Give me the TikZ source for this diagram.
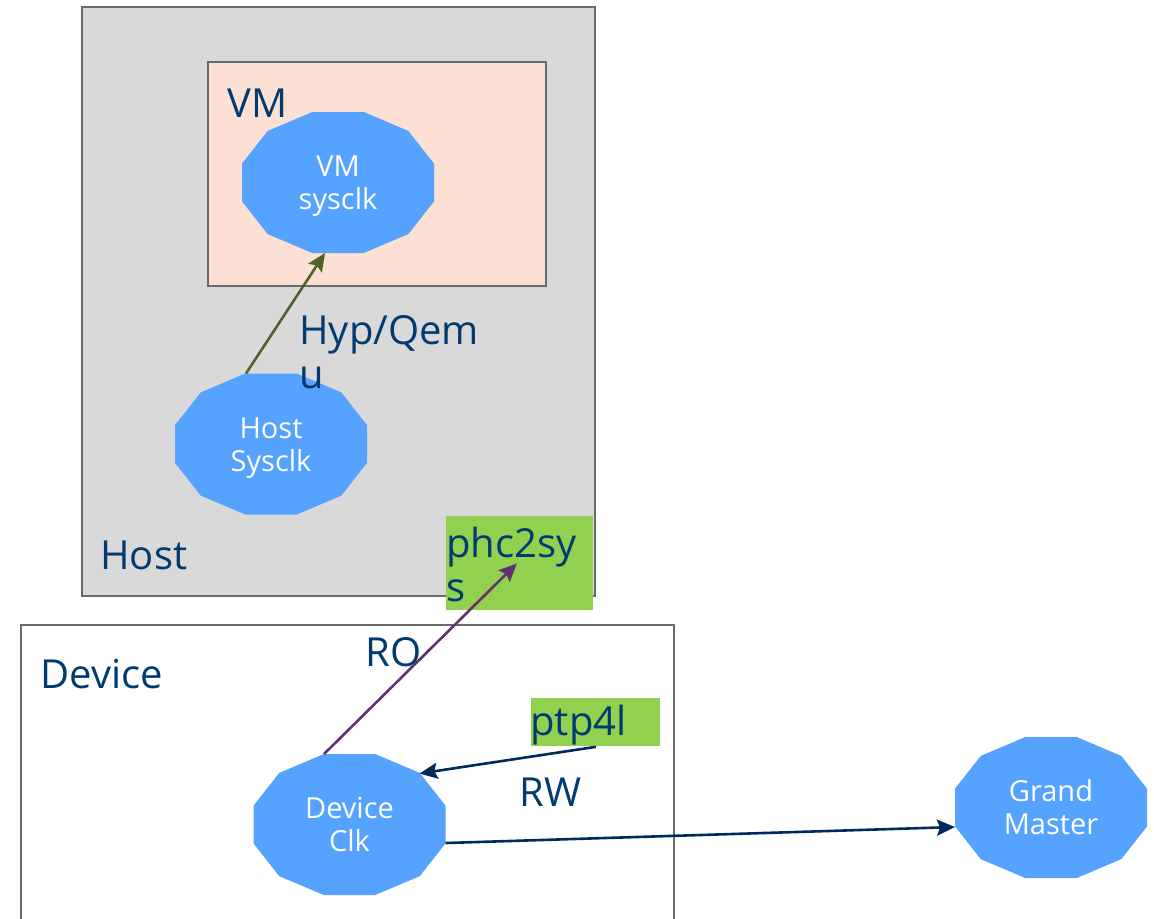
\documentclass[tikz,border=0pt]{standalone}
\usepackage{fontspec}
\setmainfont{Open Sans}
\usetikzlibrary{arrows.meta,calc}

\definecolor{hostgray}{RGB}{217,217,217}
\definecolor{vmpeach}{RGB}{251,224,211}
\definecolor{framegray}{RGB}{105,105,105}
\definecolor{clkblue}{RGB}{86,162,255}
\definecolor{labelblue}{RGB}{0,58,112}
\definecolor{toolgreen}{RGB}{146,208,80}
\definecolor{hyparrow}{RGB}{79,98,40}
\definecolor{roarrow}{RGB}{96,50,112}
\definecolor{rwarrow}{RGB}{0,42,92}

\tikzset{
  frame/.style={draw=framegray, line width=0.8pt},
  lbl/.style={text=labelblue, inner sep=0pt, anchor=base west, align=left,
    font=\fontsize{20pt}{21.8pt}\selectfont},
  clktext/.style={inner sep=0pt, anchor=base, text=white, align=center,
    font=\fontsize{14.5pt}{16.5pt}\selectfont},
  toolbox/.style={fill=toolgreen, inner sep=0pt, anchor=north west},
  link/.style={line width=1.3pt, -{Stealth[length=9pt,width=8pt,inset=1.5pt]}}
}

% twelve-sided clock: centre coordinate, filled outline, two-line caption
\newcommand\clocknode[3]{%
  \coordinate (#1) at #2;
  \fill[clkblue, shift={#2}] plot[samples at={15,45,...,345}, variable=\x]
    (\x:49.69pt and 36.49pt) -- cycle;
  \node[clktext] (#1-text) at ($(#1)+(0,27)$) {#3};}

\begin{document}
\begin{tikzpicture}[x=0.5pt, y=-0.5pt]
  \useasboundingbox (0,0) rectangle (1154,918);
  \clip (0,0) rectangle (1154,918);

  % host and guest containers
  \draw[frame, fill=hostgray] (82,7) rectangle (595,596);
  \draw[frame, fill=vmpeach] (208,62) rectangle (546,286);

  \clocknode{vm}{(338,182.5)}{VM\\sysclk}
  \clocknode{host}{(271,444)}{Host\\Sysclk}

  \node[lbl] (vmlabel) at (227,117) {VM};
  \node[lbl] (hyplabel) at (299,388) {Hyp/Qem\\u};
  \node[lbl] (hostlabel) at (100,569) {Host};

  % phc2sys tool
  \node[toolbox, minimum width=73.5pt, minimum height=47pt] (phc) at (446,516) {};
  \node[lbl] (phclabel) at (446,601) {phc2sy\\s};

  % NIC container, open at the bottom
  \draw[frame] (21,930) |- (674,625) -- (674,930);
  \node[lbl] (devlabel) at (40,688) {Device};
  \node[lbl] (rolabel) at (365,666) {RO};
  \node[lbl] (rwlabel) at (519,806) {RW};

  % ptp4l tool
  \node[toolbox, minimum width=64.5pt, minimum height=24pt] (ptp) at (531,698) {};
  \node[lbl] (ptplabel) at (530,735) {ptp4l};

  \clocknode{dev}{(349.5,824.5)}{Device\\Clk}
  \clocknode{gm}{(1051,807.5)}{Grand\\Master}

  % clock relations
  \draw[link, color=hyparrow] ($(host)+(-25,-70.5)$) -- ($(vm)+(-13,70.5)$);
  \draw[link, color=roarrow] ($(dev)+(-25.5,-70.5)$) -- ($(phc.center)+(-3,0)$);
  \draw[link, color=rwarrow] (ptp.south) -- ($(dev)+(70,-51)$);
  \draw[link, color=rwarrow] ($(dev)+(96,18.5)$) -- ($(gm)+(-96,19.5)$);
\end{tikzpicture}
\end{document}
